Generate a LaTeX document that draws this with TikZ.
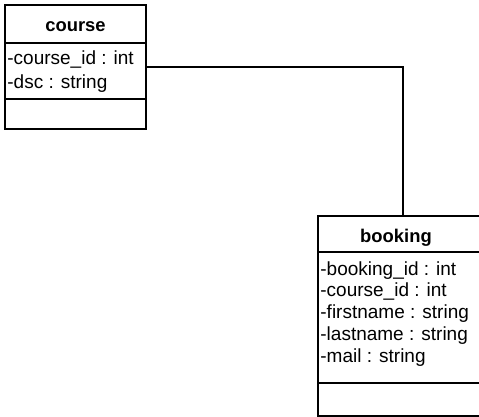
\documentclass[tikz,border=0pt]{standalone}
\usepackage{fontspec}
\setmainfont{Liberation Sans}
\usetikzlibrary{calc}

\begin{document}
\begin{tikzpicture}[x=0.5pt,y=-0.5pt,
		classbox/.style={draw, line width=1pt, inner sep=0pt},
		classname/.style={anchor=base, inner sep=0pt, font=\bfseries\fontsize{9.2}{11}\selectfont},
		attr/.style={anchor=base west, inner sep=0pt, font=\fontsize{9.5}{11}\selectfont}]
				\useasboundingbox (0,0) rectangle (479,417);
				
				% course class
				\node[classbox, minimum width=70.5pt, minimum height=62pt] (course) at (75.5,67) {};
				\draw[line width=1pt] (5,43) -- (146,43);
				\draw[line width=1pt] (5,99) -- (146,99);
				\node[classname] (coursename) at (75.5,32) {course};
				\node[attr] (courseid) at (7,65) {-course\_id : int};
				\node[attr] (coursedsc) at (7,89) {-dsc : string};
				
				% booking class
				\node[classbox, minimum width=85pt, minimum height=100pt] (booking) at (403,316) {};
				\draw[line width=1pt] (318,252) -- (488,252);
				\draw[line width=1pt] (318,383) -- (488,383);
				\node[classname] (bookingname) at (396,243) {booking};
				\node[attr] (bookingid) at (320,276) {-booking\_id : int};
				\node[attr] (bookingcourse) at (320,297) {-course\_id : int};
				\node[attr] (bookingfirst) at (320,319) {-firstname : string};
				\node[attr] (bookinglast) at (320,341) {-lastname : string};
				\node[attr] (bookingmail) at (320,363) {-mail : string};
				
				% association
				\draw[line width=1pt] (course.east) -| (booking.north);
\end{tikzpicture}
\end{document}
